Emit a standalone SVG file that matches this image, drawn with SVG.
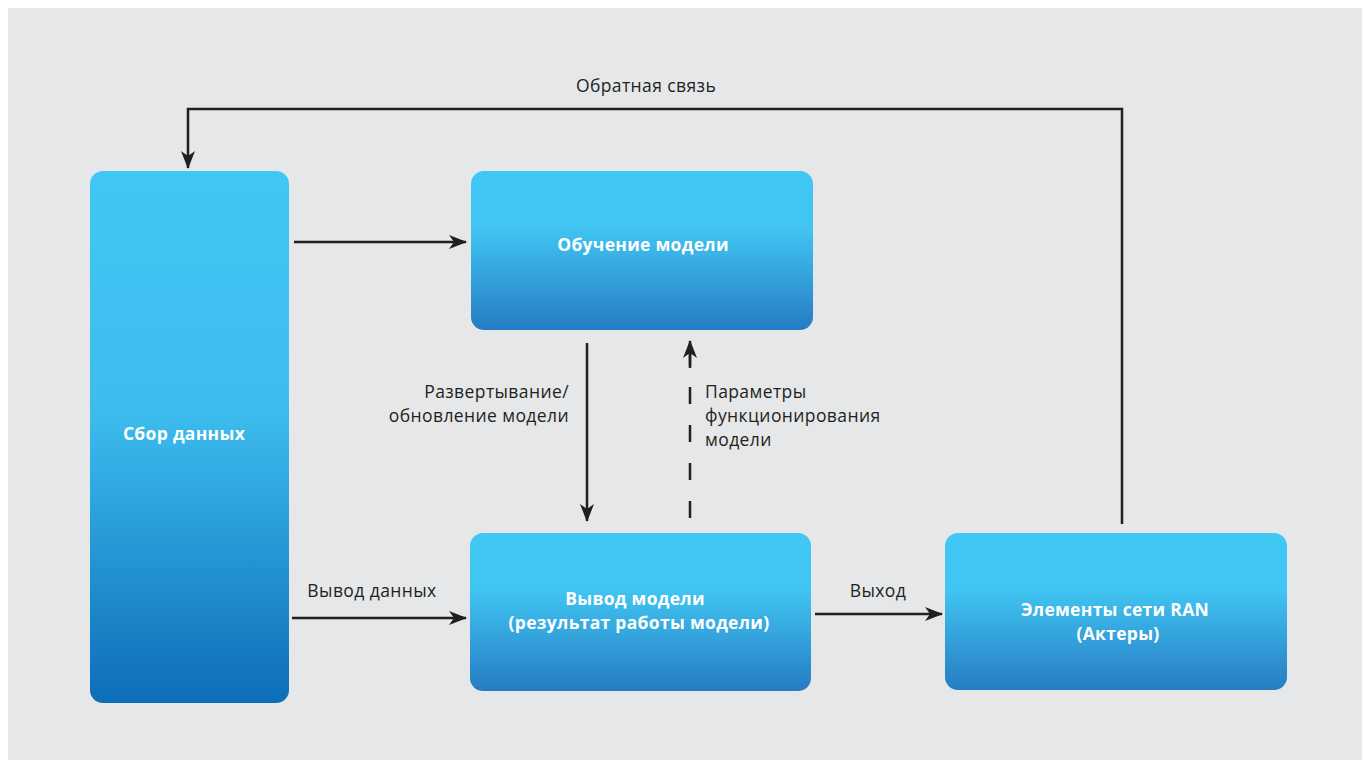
<svg xmlns="http://www.w3.org/2000/svg" width="1362" height="760" viewBox="0 0 1362 760">
<defs>
<linearGradient id="gShort" x1="0" y1="0" x2="0" y2="1">
<stop offset="0" stop-color="#41c7f4"/>
<stop offset="0.35" stop-color="#41c6f3"/>
<stop offset="1" stop-color="#267cc3"/>
</linearGradient>
<linearGradient id="gTall" x1="0" y1="0" x2="0" y2="1">
<stop offset="0" stop-color="#41c7f4"/>
<stop offset="0.45" stop-color="#3dbdee"/>
<stop offset="1" stop-color="#0d6db9"/>
</linearGradient>
<marker id="arr" viewBox="0 0 18 14" refX="17" refY="7" markerWidth="18" markerHeight="14" markerUnits="userSpaceOnUse" orient="auto">
<path d="M0,0 L18,7 L0,14 L5,7 Z" fill="#231f20"/>
</marker>
<style>
.lbl{font-family:"Open Sans","Noto Sans",sans-serif;font-size:17.5px;letter-spacing:0.4px;fill:#231f20}
.nt{font-family:"Open Sans","Noto Sans",sans-serif;font-size:17.5px;letter-spacing:0.3px;font-weight:bold;fill:#ffffff;text-anchor:middle}
.ln{stroke:#231f20;stroke-width:2.5;fill:none}
</style>
</defs>
<rect x="0" y="0" width="1362" height="760" fill="#ffffff"/>
<rect x="8" y="8" width="1354" height="752" fill="#e6e7e9"/>

<g id="connectors">
<path class="ln" d="M1122,524 L1122,109 L188,109 L188,168" marker-end="url(#arr)"/>
<path class="ln" d="M294,242 L466,242" marker-end="url(#arr)"/>
<path class="ln" d="M292,618 L466,618" marker-end="url(#arr)"/>
<path class="ln" d="M587,343 L587,521" marker-end="url(#arr)"/>
<path class="ln" d="M690,518 L690,350" stroke-dasharray="17 21"/>
<path class="ln" d="M690,368 L690,341" marker-end="url(#arr)"/>
<path class="ln" d="M815,614 L942,614" marker-end="url(#arr)"/>
<text class="lbl" x="646" y="92" text-anchor="middle">Обратная связь</text>
<text class="lbl" x="372" y="597" text-anchor="middle">Вывод данных</text>
<text class="lbl" x="878" y="597" text-anchor="middle">Выход</text>
<text class="lbl" x="569" y="398" text-anchor="end">Развертывание/</text>
<text class="lbl" x="569" y="422" text-anchor="end">обновление модели</text>
<text class="lbl" x="705" y="398">Параметры</text>
<text class="lbl" x="705" y="422">функционирования</text>
<text class="lbl" x="705" y="446">модели</text>
</g>

<g id="node-collect">
<rect x="90" y="171" width="199" height="532" rx="13" fill="url(#gTall)"/>
<text class="nt" x="184" y="440">Сбор данных</text>
</g>
<g id="node-train">
<rect x="471" y="171" width="342" height="159" rx="13" fill="url(#gShort)"/>
<text class="nt" x="643" y="251">Обучение модели</text>
</g>
<g id="node-infer">
<rect x="470" y="533" width="341" height="158" rx="13" fill="url(#gShort)"/>
<text class="nt" x="635" y="605">Вывод модели</text>
<text class="nt" x="639" y="629">(результат работы модели)</text>
</g>
<g id="node-ran">
<rect x="945" y="533" width="342" height="157" rx="13" fill="url(#gShort)"/>
<text class="nt" x="1115" y="616">Элементы сети RAN</text>
<text class="nt" x="1118" y="640">(Актеры)</text>
</g>
</svg>
